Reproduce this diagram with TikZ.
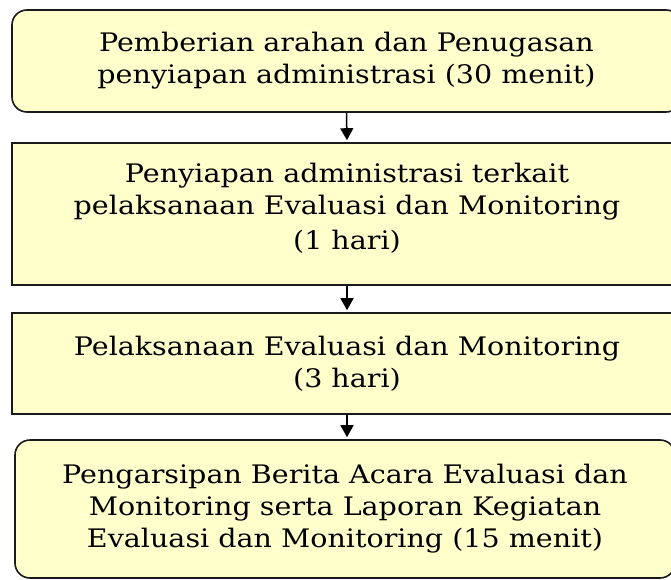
\documentclass[tikz,border=0pt]{standalone}
\usepackage{fontspec}
\setmainfont[FakeStretch=1.12]{DejaVu Serif}
\usetikzlibrary{arrows.meta,positioning}
\definecolor{paleyellow}{HTML}{FFFFCC}
\definecolor{boxline}{HTML}{1A1A1A}

\begin{document}
\begin{tikzpicture}[x=1pt,y=-1pt,
 stage/.style={draw=boxline,fill=paleyellow,line width=1.6pt,align=center,inner sep=0pt,font=\fontsize{25.5}{32}\selectfont},
 a/.style={-{Triangle[length=12pt,width=13pt]},line width=1.5pt,black,shorten >=2pt}]
\useasboundingbox (0,0) rectangle (671,580);
\clip (0,0) rectangle (671,580);

\node[stage,rounded corners=15pt,minimum width=669pt,minimum height=102pt] (arahan) at (346.5,61)
{Pemberian arahan dan Penugasan\\penyiapan administrasi (30 menit)};
% text of this box sits a little above the middle
\node[stage,minimum width=670pt,minimum height=142pt] (siap) at (347,214)
{Penyiapan administrasi terkait\\pelaksanaan Evaluasi dan Monitoring\\[3pt](1 hari)\\[-17pt]\mbox{}};
\node[stage,minimum width=670pt,minimum height=101pt] (laksana) at (347,363.5)
{Pelaksanaan Evaluasi dan Monitoring\\(3 hari)};
\node[stage,rounded corners=15pt,minimum width=660pt,minimum height=138pt] (arsip) at (345,509)
{Pengarsipan Berita Acara Evaluasi dan\\Monitoring serta Laporan Kegiatan\\Evaluasi dan Monitoring (15 menit)};

\draw[a] (arahan.south) -- (siap.north);
\draw[a] (siap.south) -- (laksana.north);
\draw[a] (laksana.south) -- (laksana.south |- arsip.north);
\end{tikzpicture}
\end{document}
